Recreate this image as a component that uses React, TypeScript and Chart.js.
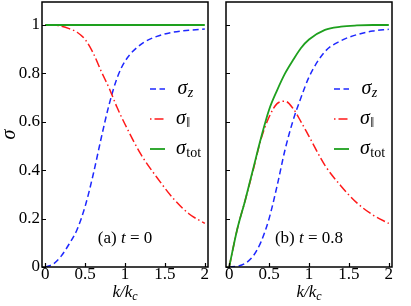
import React, { useEffect, useRef } from "react";
import { Chart, registerables } from "chart.js";

Chart.register(...registerables);

// ---- data ----
const kGrid = [0, 0.1, 0.2, 0.3, 0.4, 0.5, 0.6, 0.7, 0.8, 0.9, 1.0, 1.2, 1.4, 1.6, 1.8, 2.0];

// panel (a) t = 0
const sigmaZ_a = [0, 0.012, 0.045, 0.095, 0.155, 0.25, 0.38, 0.53, 0.67, 0.78, 0.85, 0.92, 0.953, 0.97, 0.978, 0.983];
const sigmaPar_a = [1, 1, 0.995, 0.985, 0.97, 0.94, 0.885, 0.81, 0.74, 0.66, 0.59, 0.465, 0.37, 0.285, 0.22, 0.18];
const sigmaTot_a = [1, 1, 1, 1, 1, 1, 1, 1, 1, 1, 1, 1, 1, 1, 1, 1];

// panel (b) t = 0.8
const sigmaZ_b = [0, 0.003, 0.015, 0.045, 0.105, 0.2, 0.335, 0.485, 0.605, 0.7, 0.785, 0.89, 0.935, 0.96, 0.975, 0.982];
const sigmaPar_b = [0, 0.155, 0.275, 0.4, 0.53, 0.62, 0.675, 0.685, 0.655, 0.6, 0.54, 0.42, 0.335, 0.265, 0.215, 0.18];
const sigmaTot_b = [0, 0.155, 0.275, 0.405, 0.535, 0.65, 0.73, 0.8, 0.855, 0.905, 0.94, 0.98, 0.993, 0.998, 1, 1];

const xTicks = [0, 0.5, 1, 1.5, 2];
const yTicks = [0, 0.2, 0.4, 0.6, 0.8, 1];
const legendSubs = ["z", "\u2016", "tot"];

const BLUE = "rgb(30,40,255)";
const RED = "rgb(255,25,25)";
const GREEN = "rgb(30,160,30)";
const SERIF = '"Liberation Serif", "DejaVu Serif", serif';

type PanelProps = {
  canvasWidth: number;
  padLeft: number;
  padRight: number;
  showY: boolean;
  z: number[];
  par: number[];
  tot: number[];
  tag: string;
  tval: string;
};

function pts(ys: number[]) {
  return kGrid.map((k, i) => ({ x: k, y: ys[i] }));
}

function Panel(p: PanelProps) {
  const ref = useRef<HTMLCanvasElement | null>(null);
  useEffect(() => {
    if (!ref.current) return;
    const styles = [
      { color: BLUE, dash: [6, 3.5], width: 1.5 },
      { color: RED, dash: [9, 3, 1.5, 3], width: 1.5 },
      { color: GREEN, dash: [] as number[], width: 1.8 },
    ];
    const decor = {
      id: "decor",
      afterDraw(chart: any) {
        const { ctx, chartArea: a, scales } = chart;
        const xs = scales.x;
        const ys = scales.y;
        ctx.save();
        // frame
        ctx.strokeStyle = "#000";
        ctx.lineWidth = 1.5;
        ctx.setLineDash([]);
        ctx.strokeRect(a.left, a.top, a.right - a.left, a.bottom - a.top);
        // inward ticks
        ctx.lineWidth = 1.2;
        ctx.beginPath();
        for (const v of xTicks) {
          const px = Math.round(xs.getPixelForValue(v)) + 0.5;
          ctx.moveTo(px, a.bottom);
          ctx.lineTo(px, a.bottom - 4);
        }
        for (const v of yTicks) {
          const py = Math.round(ys.getPixelForValue(v)) + 0.5;
          ctx.moveTo(a.left, py);
          ctx.lineTo(a.left + 4, py);
        }
        ctx.stroke();
        // legend
        for (let i = 0; i < 3; i++) {
          const st = styles[i];
          const y = a.top + 87 + i * 30;
          ctx.strokeStyle = st.color;
          ctx.lineWidth = st.width;
          ctx.setLineDash(i === 1 ? [1.5, 3, 9, 3] : st.dash);
          ctx.beginPath();
          ctx.moveTo(a.right - 58, y);
          ctx.lineTo(a.right - 43, y);
          ctx.stroke();
          ctx.setLineDash([]);
          ctx.fillStyle = "#000";
          ctx.textBaseline = "alphabetic";
          ctx.textAlign = "left";
          const tx = a.right - 32 + (i === 0 ? 1.5 : 0);
          ctx.font = `italic 20px ${SERIF}`;
          ctx.fillText("\u03C3", tx, y + 5);
          const w = ctx.measureText("\u03C3").width;
          ctx.font = `${i === 0 ? "italic " : ""}14px ${SERIF}`;
          ctx.fillText(legendSubs[i], tx + w + 0.5, y + 8);
        }
        // annotation
        const cx = (a.left + a.right) / 2;
        const parts = [
          { t: p.tag + " ", f: `17px ${SERIF}` },
          { t: "t", f: `italic 17px ${SERIF}` },
          { t: " = " + p.tval, f: `17px ${SERIF}` },
        ];
        let total = 0;
        for (const pr of parts) {
          ctx.font = pr.f;
          total += ctx.measureText(pr.t).width;
        }
        let x0 = cx - total / 2;
        for (const pr of parts) {
          ctx.font = pr.f;
          ctx.fillText(pr.t, x0, 243);
          x0 += ctx.measureText(pr.t).width;
        }
        // x title k/k_c
        ctx.font = `italic 17px ${SERIF}`;
        const w1 = ctx.measureText("k/k").width;
        ctx.font = `italic 12px ${SERIF}`;
        const w2 = ctx.measureText("c").width;
        const xt = cx - (w1 + w2) / 2;
        ctx.font = `italic 17px ${SERIF}`;
        ctx.fillText("k/k", xt, 297);
        ctx.font = `italic 12px ${SERIF}`;
        ctx.fillText("c", xt + w1, 300);
        // y title
        if (p.showY) {
          ctx.translate(15, (a.top + a.bottom) / 2);
          ctx.rotate(-Math.PI / 2);
          ctx.font = `italic 20px ${SERIF}`;
          ctx.textAlign = "center";
          ctx.fillText("\u03C3", 0, 0);
        }
        ctx.restore();
      },
    };
    const chart = new Chart(ref.current, {
      type: "line",
      data: {
        datasets: [
          { data: pts(p.z), borderColor: BLUE, borderDash: styles[0].dash, borderWidth: styles[0].width, order: 2 },
          { data: pts(p.par), borderColor: RED, borderDash: styles[1].dash, borderWidth: styles[1].width, order: 1 },
          { data: pts(p.tot), borderColor: GREEN, borderWidth: styles[2].width, order: 0 },
        ].map((d) => ({ ...d, pointRadius: 0, fill: false, cubicInterpolationMode: "monotone" as const })),
      },
      options: {
        responsive: false,
        animation: false,
        events: [],
        layout: { padding: { top: 2, right: p.padRight, left: 0, bottom: 0 } },
        plugins: { legend: { display: false }, tooltip: { enabled: false } },
        scales: {
          x: {
            type: "linear",
            min: -0.04,
            max: 2.04,
            afterBuildTicks: (s: any) => {
              s.ticks = xTicks.map((v) => ({ value: v }));
            },
            afterFit: (s: any) => {
              s.height = 39;
              s.paddingLeft = 0;
              s.paddingRight = 0;
              s.paddingTop = 0;
              s.paddingBottom = 0;
            },
            grid: { display: false, drawTicks: false },
            border: { display: false },
            ticks: {
              autoSkip: false,
              maxRotation: 0,
              padding: -3,
              color: "#000",
              font: { family: SERIF, size: 17 },
              callback: (v: any) => String(v),
            },
          },
          y: {
            type: "linear",
            min: 0,
            max: 1.095,
            afterBuildTicks: (s: any) => {
              s.ticks = yTicks.map((v) => ({ value: v }));
            },
            afterFit: (s: any) => {
              s.width = p.padLeft;
              s.paddingLeft = 0;
              s.paddingRight = 0;
              s.paddingTop = 0;
              s.paddingBottom = 0;
            },
            grid: { display: false, drawTicks: false },
            border: { display: false },
            ticks: {
              display: p.showY,
              padding: 2,
              color: "#000",
              font: { family: SERIF, size: 17 },
              callback: (v: any) => String(v),
            },
          },
        },
      },
      plugins: [decor],
    } as any);
    return () => chart.destroy();
  }, []);
  return <canvas ref={ref} width={p.canvasWidth} height={306} style={{ display: "block" }} />;
}

export default function App() {
  return (
    <div style={{ position: "fixed", left: 0, top: 0, width: 411, height: 306, display: "flex", background: "#fff" }}>
      <Panel canvasWidth={215} padLeft={42} padRight={7} showY={true} z={sigmaZ_a} par={sigmaPar_a} tot={sigmaTot_a} tag="(a)" tval="0" />
      <Panel canvasWidth={196} padLeft={11} padRight={19} showY={false} z={sigmaZ_b} par={sigmaPar_b} tot={sigmaTot_b} tag="(b)" tval="0.8" />
    </div>
  );
}
